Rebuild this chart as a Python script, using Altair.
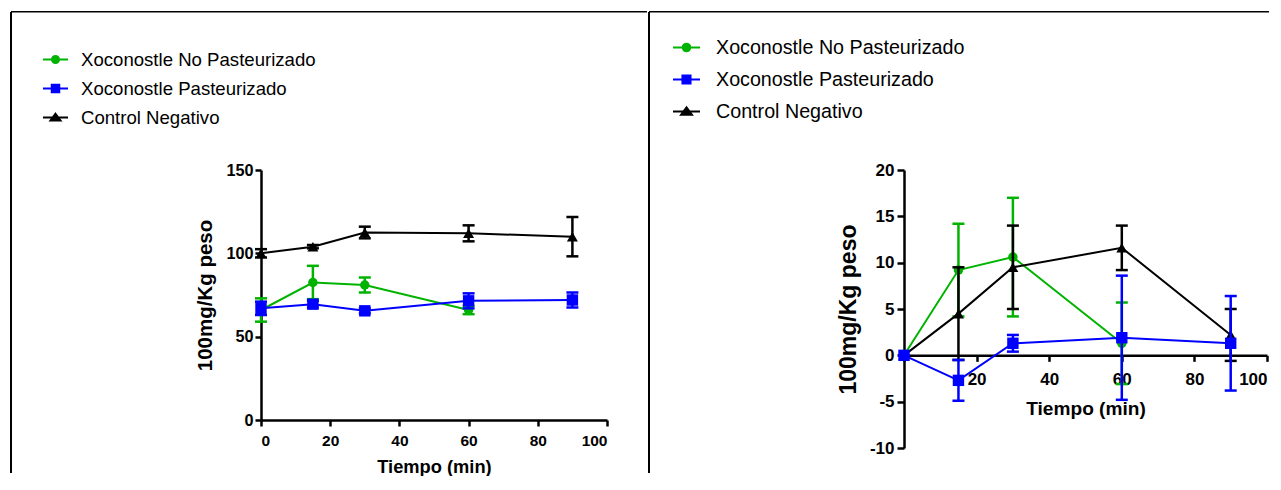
import altair as alt
import pandas as pd

# ---------------- data ----------------
series = ["Xoconostle No Pasteurizado", "Xoconostle Pasteurizado", "Control Negativo"]
colors = ["#00b300", "#0000ff", "#000000"]

# left panel
l_t_np = [0, 15, 30, 60]
l_mean_np = [66, 82.5, 81, 66]
l_err_np = [7, 10, 4.5, 2.5]
l_t_p = [0, 15, 30, 60, 90]
l_mean_p = [67, 69.5, 65.5, 71.5, 72]
l_err_p = [4, 2, 1.5, 4.5, 4.5]
l_t_c = [0, 15, 30, 60, 90]
l_mean_c = [100, 104, 112.5, 112, 110]
l_err_c = [2.5, 1, 3.5, 4.8, 11.8]

# right panel
r_t_np = [0, 15, 30, 60]
r_mean_np = [0, 9.2, 10.6, 1.3]
r_err_np = [0, 5, 6.4, 4.4]
r_t_p = [0, 15, 30, 60, 90]
r_mean_p = [0, -2.7, 1.3, 1.9, 1.3]
r_err_p = [0, 2.2, 0.9, 6.7, 5.1]
r_t_c = [0, 15, 30, 60, 90]
r_mean_c = [0, 4.5, 9.5, 11.6, 2.2]
r_err_c = [0, 5, 4.5, 2.4, 2.8]

x_ticks = [0, 20, 40, 60, 80, 100]
l_y_ticks = [0, 50, 100, 150]
r_y_ticks = [-10, -5, 0, 5, 10, 15, 20]


def build_df(groups):
    rows = []
    for name, ts, ms, es in groups:
        for t, m, e in zip(ts, ms, es):
            rows.append({"serie": name, "t": t, "mean": m, "lo": m - e, "hi": m + e})
    return pd.DataFrame(rows)


left_df = build_df([
    (series[0], l_t_np, l_mean_np, l_err_np),
    (series[1], l_t_p, l_mean_p, l_err_p),
    (series[2], l_t_c, l_mean_c, l_err_c),
])
right_df = build_df([
    (series[0], r_t_np, r_mean_np, r_err_np),
    (series[1], r_t_p, r_mean_p, r_err_p),
    (series[2], r_t_c, r_mean_c, r_err_c),
])

FONT = "Liberation Sans"

# legend symbols: short line with marker
legend_paths = [
    "M-1,0H1M0.28,0A0.28,0.28,0,1,1,-0.28,0A0.28,0.28,0,1,1,0.28,0Z",
    "M-1,0H1M-0.3,-0.3H0.3V0.3H-0.3Z",
    "M-1,0H1M0,-0.3L0.4,0.24H-0.4Z",
]
marker_shapes = ["circle", "square", "triangle-up"]
marker_sizes = [90, 130, 120]
draw_order = [0, 2, 1]


def panel(df, w, h, ydom, yticks, xaxis_kw, yaxis_kw, legend_kw, borders):
    X = alt.X("t:Q", scale=alt.Scale(domain=[0, 100], nice=False, zero=False),
              axis=alt.Axis(values=x_ticks, grid=False, domainColor="black", domainWidth=2.5,
                            tickColor="black", tickWidth=2.5, labelColor="black",
                            labelFont=FONT, labelFontWeight="bold",
                            titleFont=FONT, titleFontWeight="bold", titleColor="black",
                            **xaxis_kw),
              title="Tiempo (min)")

    def Y(field):
        return alt.Y(field, type="quantitative",
                     scale=alt.Scale(domain=ydom, nice=False, zero=False),
                     axis=alt.Axis(values=yticks, grid=False, domainColor="black", domainWidth=2.5,
                                   tickColor="black", tickWidth=2.5, labelColor="black",
                                   labelFont=FONT, labelFontWeight="bold",
                                   labelExpr="datum.value + ''",
                                   titleFont=FONT, titleFontWeight="bold", titleColor="black",
                                   **yaxis_kw),
                     title="100mg/Kg peso")

    base = alt.Chart(df)
    layers = []
    for i in draw_order:
        s, col = series[i], colors[i]
        d = base.transform_filter(alt.datum.serie == s)
        layers += [
            d.mark_line(strokeWidth=2, color=col).encode(x=X, y=Y("mean")),
            d.mark_rule(strokeWidth=2.5, color=col).encode(x=X, y=Y("lo"), y2="hi:Q"),
            d.mark_tick(orient="horizontal", size=12, thickness=2.5, color=col, opacity=1).encode(x=X, y=Y("lo")),
            d.mark_tick(orient="horizontal", size=12, thickness=2.5, color=col, opacity=1).encode(x=X, y=Y("hi")),
            d.mark_point(filled=True, shape=marker_shapes[i], size=marker_sizes[i],
                         color=col, opacity=1).encode(x=X, y=Y("mean")),
        ]

    leg = alt.Legend(orient="none", title=None, direction="vertical", padding=0,
                     labelFont=FONT, labelColor="black", symbolStrokeWidth=2,
                     symbolOpacity=1, labelLimit=1000, **legend_kw)
    dummy = base.mark_point(filled=True, opacity=0).encode(
        x=X, y=Y("mean"),
        color=alt.Color("serie:N", scale=alt.Scale(domain=series, range=colors), legend=leg),
        stroke=alt.Stroke("serie:N", scale=alt.Scale(domain=series, range=colors), legend=leg),
        shape=alt.Shape("serie:N", scale=alt.Scale(domain=series, range=legend_paths), legend=leg),
    )
    layers.append(dummy)

    one = alt.Chart(pd.DataFrame({"k": [0]}))
    for b in borders:
        if b[0] == "v":
            _, xv, y1, y2 = b
            layers.append(one.mark_rule(color="black", strokeWidth=2).encode(
                x=alt.value(xv), y=alt.value(y1), y2=alt.value(y2)))
        else:
            _, yv, x1, x2 = b
            layers.append(one.mark_rule(color="black", strokeWidth=1.5).encode(
                y=alt.value(yv), x=alt.value(x1), x2=alt.value(x2)))

    return alt.layer(*layers).properties(width=w, height=h)


left = panel(
    left_df, 346, 250, [0, 150], l_y_ticks,
    xaxis_kw=dict(tickSize=6, labelFontSize=15.5, labelPadding=7, titleFontSize=18.3, titlePadding=10),
    yaxis_kw=dict(tickSize=6, labelFontSize=16.2, labelPadding=2, titleFontSize=20.5, titlePadding=10),
    legend_kw=dict(legendX=-219, legendY=-124, labelFontSize=18.6, symbolSize=625,
                   rowPadding=5, labelOffset=12),
    borders=[("v", -250, -158, 303), ("h", -158.25, -250, 386)],
)

right = panel(
    right_df, 363, 278, [-10, 20], r_y_ticks,
    xaxis_kw=dict(tickSize=6, labelFontSize=17, labelPadding=10, titleFontSize=19.1, titlePadding=12,
                  offset=-92.67, labelFlush=True,
                  labelExpr="datum.value == 0 ? '' : datum.value + ''"),
    yaxis_kw=dict(tickSize=7, labelFontSize=17, labelPadding=3, titleFontSize=23, titlePadding=9),
    legend_kw=dict(legendX=-232, legendY=-137, labelFontSize=19.7, symbolSize=729,
                   rowPadding=7, labelOffset=15),
    borders=[("v", -255, -158, 303), ("h", -158.25, -255, 365)],
)

chart = alt.hconcat(left, right, spacing=0).resolve_scale(
    color="independent", stroke="independent", shape="independent"
).resolve_legend(
    color="independent", stroke="independent", shape="independent"
).properties(
    padding={"left": 2, "top": 3, "right": 0, "bottom": 0}
).configure(
    background="white"
).configure_view(strokeWidth=0, strokeOpacity=0)

chart.save("out.html", embed_options={"renderer": "svg", "actions": False})
